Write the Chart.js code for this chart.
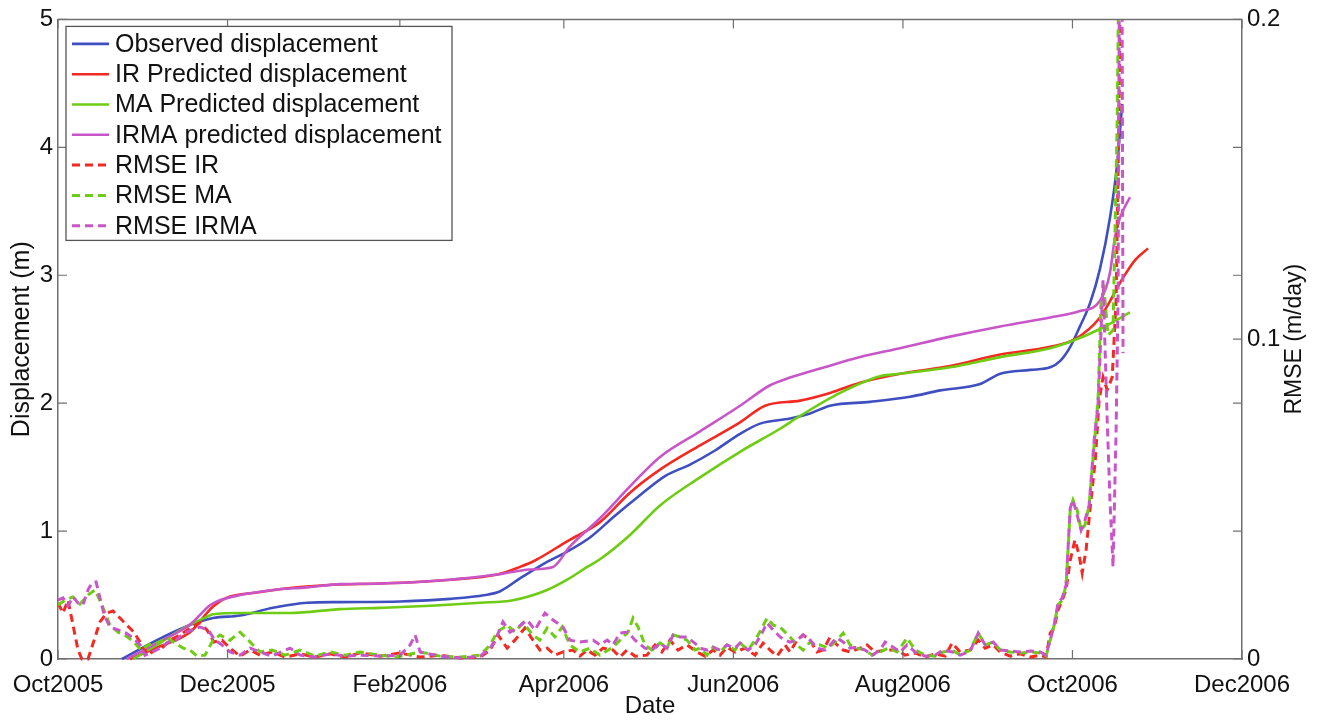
<!DOCTYPE html>
<html><head><meta charset="utf-8">
<script src="https://cdn.jsdelivr.net/npm/chart.js@4.4.1/dist/chart.umd.min.js"></script>
<style>html,body{margin:0;padding:0;background:#fff;}canvas{display:block;}</style>
</head><body>
<canvas id="c" width="1320" height="720"></canvas>
<script>
// ---- axis ticks (x in days since 1 Oct 2005) ----
const tickDays = [0, 61, 123, 182, 243, 304, 365, 426];
const tickLabels = ['Oct2005','Dec2005','Feb2006','Apr2006','Jun2006','Aug2006','Oct2006','Dec2006'];
const leftTicks = [0, 1, 2, 3, 4, 5];
const rightTicks = [0, 0.1, 0.2];

// ---- displacement series [day, metres] ----
const observed = [[23.0,0],[35.6,0.148],[47.5,0.266],[55.8,0.32],[65.5,0.34],[77.4,0.40],[89.6,0.44],[101.5,0.445],[123.1,0.45],[141.1,0.47],[153.7,0.50],[159.1,0.53],[166.2,0.63],[175.2,0.75],[183.2,0.84],[191.4,0.95],[200.4,1.12],[209.4,1.28],[218.4,1.43],[227.4,1.52],[236.4,1.63],[245.4,1.76],[252.6,1.84],[263.4,1.88],[270.6,1.92],[277.8,1.98],[292.2,2.01],[306.6,2.05],[317.4,2.10],[331.8,2.15],[339.0,2.23],[349.8,2.26],[357.0,2.28],[360.6,2.33],[364.2,2.44],[367.7,2.60],[371.3,2.78],[374.9,3.05],[378.5,3.45],[381.1,3.87],[382.9,4.34]];
const irPred = [[25.9,0],[35.6,0.09],[47.5,0.21],[55.8,0.41],[60.8,0.48],[71.6,0.52],[83.5,0.555],[99.0,0.58],[115.9,0.59],[141.1,0.62],[158.0,0.66],[166.2,0.72],[171.6,0.77],[183.2,0.92],[195.0,1.07],[205.8,1.30],[216.6,1.48],[231.0,1.67],[245.4,1.85],[254.4,1.98],[267.0,2.02],[277.8,2.08],[288.6,2.16],[303.0,2.23],[321.0,2.29],[339.0,2.38],[357.0,2.44],[365.9,2.50],[374.9,2.67],[383.2,2.98],[387.6,3.12],[392.2,3.21]];
const maPred = [[27.0,0],[35.6,0.11],[45.0,0.24],[53.6,0.33],[55.8,0.35],[65.5,0.36],[83.5,0.36],[101.5,0.39],[115.9,0.40],[127.7,0.41],[151.9,0.44],[163.7,0.46],[176.0,0.54],[183.2,0.62],[190.4,0.72],[195.0,0.78],[205.8,0.97],[216.6,1.20],[231.0,1.42],[245.4,1.62],[259.8,1.80],[267.0,1.90],[281.4,2.08],[295.8,2.21],[303.0,2.23],[321.0,2.28],[339.0,2.36],[357.0,2.43],[364.2,2.48],[374.9,2.58],[385.7,2.71]];
const irmaPred = [[24.8,0],[35.6,0.125],[47.5,0.27],[54.7,0.42],[57.2,0.45],[65.5,0.50],[77.4,0.54],[89.6,0.56],[101.5,0.585],[115.9,0.59],[141.1,0.62],[158.0,0.66],[169.8,0.70],[178.1,0.72],[184.2,0.88],[195.0,1.10],[205.8,1.35],[216.6,1.58],[231.0,1.78],[245.4,1.98],[256.2,2.14],[263.4,2.20],[274.2,2.27],[288.6,2.36],[303.0,2.43],[321.0,2.52],[339.0,2.60],[357.0,2.67],[367.7,2.72],[374.9,2.80],[378.5,3.02],[380.3,3.30],[382.1,3.45],[385.7,3.61]];

// ---- RMSE series [day, m/day] ----
const rmseIR = [[0,0.0175],[1.8,0.0144],[3.6,0.0184],[5.4,0.0106],[7.2,0.0028],[8.6,0],[10.8,0],[13.0,0.0059],[15.1,0.0116],[17.6,0.0144],[19.8,0.015],[22.3,0.0128],[24.8,0.0106],[27.3,0.0084],[29.9,0.0047],[32.4,0.0012],[34.9,0.0028],[37.4,0.0034],[40.3,0.0059],[43.9,0.0075],[47.5,0.0097],[51.1,0.0113],[53.6,0.0091],[56.1,0.0053],[59.0,0.0059],[61.9,0.0034],[65.5,0.0009],[69.1,0.0028],[72.7,0.0012],[77.0,0.0022],[81.7,0.0006],[87.1,0.0016],[92.5,0.0006],[97.9,0.0016],[103.3,0.0006],[108.7,0.0019],[115.9,0.0009],[123.1,0.0019],[130.3,0.0006],[137.5,0.0012],[144.7,0.0003],[151.9,0.0006],[155.5,0.0028],[158.3,0.0075],[161.6,0.0034],[164.4,0.0059],[168.0,0.0097],[170.9,0.0059],[173.4,0.0028],[176.0,0.0034],[178.8,0.0012],[181.7,0.0022],[185.3,0.0028],[187.8,0.0009],[190.4,0.0028],[193.2,0.0012],[196.1,0.0034],[199.7,0.0028],[202.2,0.0006],[204.7,0.0028],[207.6,0.0009],[211.9,0.0012],[214.8,0.0044],[217.3,0.0022],[220.2,0.0059],[223.1,0.0028],[226.3,0.0044],[229.9,0.0022],[232.8,0.0009],[235.7,0.0028],[238.2,0.0012],[240.7,0.0037],[243.6,0.0022],[247.2,0.0034],[250.8,0.0012],[253.7,0.005],[256.2,0.0028],[258.7,0.0009],[261.6,0.0044],[263.4,0.0022],[265.9,0.0059],[268.1,0.0075],[270.6,0.0059],[273.1,0.0022],[275.3,0.0028],[277.8,0.0069],[280.3,0.0044],[282.5,0.0028],[285.0,0.0022],[288.6,0.0034],[291.1,0.0044],[294.0,0.0022],[297.6,0.0028],[301.9,0.0028],[304.8,0.0012],[308.4,0.0019],[312.0,0.0006],[315.6,0.0016],[319.2,0.0009],[321.7,0.005],[324.6,0.0022],[328.2,0.0028],[331.1,0.0059],[333.6,0.0034],[336.5,0.0044],[339.0,0.0022],[342.6,0.0009],[346.2,0.0016],[349.8,0.0006],[353.4,0.0012],[355.5,0.0006],[357.0,0.0081],[358.4,0.0097],[359.8,0.0153],[361.3,0.0184],[362.7,0.0216],[364.2,0.0309],[365.9,0.0372],[367.4,0.0325],[368.5,0.0269],[369.9,0.0341],[371.3,0.0466],[373.2,0.0622],[374.6,0.0809],[376.0,0.0881],[377.5,0.0841],[379.3,0.0881],[380.7,0.1122],[381.8,0.1747],[382.5,0.2372]];
const rmseMA = [[0,0.0169],[2.5,0.0184],[5.4,0.0194],[7.9,0.0172],[10.8,0.02],[13.3,0.0216],[15.8,0.0169],[18.7,0.0106],[21.6,0.0084],[24.5,0.0072],[27.3,0.0053],[29.9,0.0028],[32.4,0.0044],[35.6,0.005],[39.2,0.0066],[42.1,0.005],[45.0,0.0034],[47.5,0.0028],[50.0,0.0009],[52.9,0.0012],[55.8,0.0059],[58.3,0.0075],[61.9,0.0059],[65.5,0.0084],[69.1,0.0053],[72.7,0.0022],[77.0,0.0028],[81.7,0.0012],[87.1,0.0028],[92.5,0.0009],[97.9,0.0022],[103.3,0.0012],[108.7,0.0022],[115.9,0.0012],[121.3,0.0006],[124.9,0.0012],[130.3,0.0022],[137.5,0.0009],[144.7,0.0006],[151.9,0.0012],[155.5,0.0044],[158.0,0.0084],[161.6,0.0106],[164.4,0.0084],[167.3,0.0113],[170.9,0.0075],[173.4,0.0059],[176.0,0.0097],[178.8,0.0069],[181.4,0.01],[184.2,0.0044],[187.8,0.0022],[191.4,0.0034],[195.0,0.0012],[199.7,0.0037],[202.2,0.0059],[205.1,0.0084],[206.9,0.0128],[208.7,0.01],[211.2,0.0044],[213.7,0.0028],[216.6,0.005],[219.1,0.0034],[221.3,0.0075],[223.8,0.0069],[226.3,0.0059],[229.2,0.0028],[231.0,0.0034],[233.5,0.0012],[235.7,0.0037],[238.2,0.0022],[240.7,0.0044],[243.6,0.0028],[245.4,0.005],[248.3,0.0028],[250.8,0.0059],[253.3,0.0097],[255.1,0.0128],[257.3,0.0106],[259.8,0.01],[261.6,0.0084],[263.4,0.0069],[265.9,0.0044],[268.1,0.0028],[270.6,0.0053],[272.4,0.0044],[274.2,0.0044],[277.1,0.0034],[279.6,0.0053],[282.5,0.0081],[285.0,0.0044],[287.5,0.0034],[290.4,0.0028],[292.9,0.0012],[295.8,0.0022],[298.7,0.0034],[301.9,0.0022],[305.5,0.0066],[308.4,0.0028],[312.0,0.0012],[315.6,0.0009],[318.5,0.0022],[321.7,0.0028],[324.6,0.0012],[328.2,0.0028],[331.1,0.0081],[333.6,0.0044],[336.5,0.0053],[339.0,0.0028],[342.6,0.0022],[346.2,0.0019],[349.8,0.0022],[353.4,0.0019],[355.5,0.0009],[357.0,0.0059],[358.4,0.0106],[359.8,0.0169],[361.3,0.0184],[362.7,0.0231],[364.2,0.0466],[365.2,0.0497],[366.7,0.0466],[368.1,0.0403],[369.5,0.0419],[371.0,0.0481],[372.8,0.0669],[374.2,0.0809],[375.3,0.1122],[376.4,0.1153],[377.8,0.1013],[379.6,0.1028],[381.1,0.1684],[382.1,0.2528]];
const rmseIRMA = [[0,0.0184],[1.8,0.0191],[3.6,0.0166],[5.4,0.0194],[7.2,0.0175],[9.0,0.0169],[10.8,0.0216],[12.2,0.0238],[13.7,0.0241],[15.1,0.0191],[16.6,0.0138],[18.7,0.01],[21.6,0.0091],[24.5,0.0081],[27.0,0.0066],[29.5,0.0044],[31.3,0.0012],[33.8,0.0022],[36.7,0.0034],[39.6,0.0053],[42.5,0.0059],[45.3,0.0081],[48.2,0.0091],[51.1,0.01],[54.0,0.0091],[56.5,0.0059],[59.0,0.0044],[61.9,0.0022],[65.5,0.0012],[69.1,0.0034],[72.7,0.0022],[77.0,0.0009],[83.5,0.0034],[87.1,0.0012],[92.5,0.0006],[97.9,0.0016],[103.3,0.0009],[108.7,0.0012],[115.9,0.0009],[123.1,0.0012],[126.7,0.0044],[128.5,0.0075],[130.3,0.0022],[137.5,0.0009],[144.7,0.0003],[151.9,0.0009],[155.5,0.0034],[157.3,0.0059],[160.1,0.0116],[162.6,0.0084],[165.2,0.0097],[168.8,0.0122],[171.6,0.0091],[175.2,0.0144],[178.1,0.0122],[181.7,0.01],[184.2,0.0059],[187.8,0.0053],[192.5,0.0059],[195.0,0.0044],[197.6,0.0059],[199.7,0.0044],[202.2,0.0081],[205.1,0.0084],[207.6,0.0059],[211.2,0.0034],[213.7,0.0028],[216.6,0.005],[219.1,0.0034],[221.3,0.0075],[223.8,0.0069],[226.3,0.0069],[229.9,0.0044],[231.0,0.0034],[233.5,0.0028],[235.7,0.0037],[238.2,0.0028],[240.7,0.0044],[243.6,0.0034],[245.4,0.005],[248.3,0.0028],[250.8,0.0044],[253.3,0.0081],[255.1,0.0113],[257.3,0.0091],[259.8,0.0069],[261.6,0.0059],[263.4,0.0053],[265.9,0.0059],[268.1,0.0075],[270.6,0.0059],[273.1,0.0034],[276.0,0.0028],[277.8,0.0044],[280.3,0.0066],[282.5,0.0053],[285.0,0.0034],[287.5,0.0037],[290.4,0.0028],[292.9,0.0012],[295.8,0.0028],[297.6,0.0053],[300.5,0.0037],[303.0,0.0022],[305.5,0.0044],[308.4,0.0022],[312.0,0.0009],[315.6,0.0012],[318.5,0.0028],[321.7,0.0022],[324.6,0.0012],[328.2,0.0025],[331.1,0.0081],[333.6,0.0044],[336.5,0.0053],[339.0,0.0028],[342.6,0.0025],[346.2,0.0022],[349.8,0.0025],[353.4,0.0022],[355.5,0.0012],[357.0,0.0059],[358.4,0.0106],[359.8,0.0175],[361.3,0.0191],[362.7,0.0231],[364.2,0.0472],[365.2,0.0497],[366.7,0.045],[368.1,0.0403],[369.5,0.0434],[371.0,0.0481],[372.8,0.0684],[374.2,0.0794],[375.3,0.1028],[376.0,0.1184],[377.5,0.0747],[378.5,0.0497],[379.6,0.0288],[380.7,0.0716],[381.4,0.1122],[382.1,0.26],[382.7,0.26],[383.2,0.0956]];

const labels = ['Observed displacement','IR Predicted displacement','MA Predicted displacement','IRMA predicted displacement','RMSE IR','RMSE MA','RMSE IRMA'];
const colors = ['#3f4fc0','#f22a22','#6fcc14','#c956c8','#f22a22','#6fcc14','#c956c8'];

const FONT = "'Liberation Sans', Arial, Helvetica, sans-serif";
const AXIS = '#707070';
Chart.defaults.font.family = FONT;
Chart.defaults.color = '#111';

function pts(arr){ return arr.map(p => ({x: p[0], y: p[1]})); }
const series = [observed, irPred, maPred, irmaPred, rmseIR, rmseMA, rmseIRMA];
const datasets = series.map((s, i) => ({
  label: labels[i],
  data: pts(s),
  yAxisID: i < 4 ? 'y' : 'y1',
  borderColor: colors[i],
  backgroundColor: colors[i],
  borderWidth: i < 4 ? 2.6 : 3,
  borderDash: i < 4 ? [] : [8, 5],
  pointRadius: 0,
  cubicInterpolationMode: i < 4 ? 'monotone' : 'default',
  tension: 0,
  fill: false,
  order: 7 - i,
  clip: {left: 0, right: 0, top: 0, bottom: 6}
}));

const framePlugin = {
  id: 'frame',
  afterDatasetsDraw(chart){
    const {ctx, chartArea: a, scales} = chart;
    ctx.save();
    ctx.strokeStyle = AXIS;
    ctx.lineWidth = 1.5;
    ctx.beginPath();
    ctx.moveTo(a.left, a.top); ctx.lineTo(a.right, a.top);
    ctx.stroke();
    const L = 9;
    ctx.lineWidth = 1.2;
    ctx.beginPath();
    scales.x.ticks.forEach(t => {
      const px = scales.x.getPixelForValue(t.value);
      ctx.moveTo(px, a.bottom); ctx.lineTo(px, a.bottom - L);
      ctx.moveTo(px, a.top); ctx.lineTo(px, a.top + L);
    });
    scales.y.ticks.forEach(t => {
      const py = scales.y.getPixelForValue(t.value);
      ctx.moveTo(a.left, py); ctx.lineTo(a.left + L, py);
      ctx.moveTo(a.right, py); ctx.lineTo(a.right - L, py);
    });
    scales.y1.ticks.forEach(t => {
      const py = scales.y1.getPixelForValue(t.value);
      ctx.moveTo(a.right, py); ctx.lineTo(a.right - L, py);
    });
    ctx.stroke();
    ctx.restore();
  },
  afterDraw(chart){
    const {ctx, chartArea: a} = chart;
    ctx.save();
    // right axis title (reads bottom-to-top)
    ctx.fillStyle = '#111';
    ctx.font = '23px ' + FONT;
    ctx.textAlign = 'center';
    ctx.textBaseline = 'middle';
    ctx.translate(1295, (a.top + a.bottom) / 2);
    ctx.rotate(-Math.PI / 2);
    ctx.fillText('RMSE (m/day)', 0, 0);
    ctx.restore();

    // legend
    ctx.save();
    const bx = a.left + 8, by = a.top + 7, bw = 386, bh = 214;
    ctx.fillStyle = '#fff';
    ctx.fillRect(bx, by, bw, bh);
    ctx.strokeStyle = '#555';
    ctx.lineWidth = 1.3;
    ctx.strokeRect(bx, by, bw, bh);
    ctx.font = '25px ' + FONT;
    ctx.textBaseline = 'middle';
    ctx.textAlign = 'left';
    chart.data.datasets.forEach((ds, i) => {
      const cy = by + 17.5 + i * 30.3;
      ctx.strokeStyle = ds.borderColor;
      ctx.lineWidth = ds.borderWidth;
      ctx.setLineDash(ds.borderDash || []);
      ctx.beginPath();
      ctx.moveTo(bx + 6, cy); ctx.lineTo(bx + 43, cy);
      ctx.stroke();
      ctx.setLineDash([]);
      ctx.fillStyle = '#111';
      ctx.fillText(ds.label, bx + 49, cy + 1);
    });
    ctx.restore();
  }
};

new Chart(document.getElementById('c'), {
  type: 'line',
  data: {datasets},
  options: {
    responsive: false,
    animation: false,
    devicePixelRatio: 1,
    parsing: true,
    layout: {padding: {top: 19, left: 0, right: 0, bottom: 0}},
    plugins: {legend: {display: false}, tooltip: {enabled: false}},
    scales: {
      x: {
        type: 'linear', min: 0, max: 426,
        afterBuildTicks: s => { s.ticks = tickDays.map(v => ({value: v})); },
        afterFit: s => { s.height = 61; },
        ticks: {
          autoSkip: false, maxRotation: 0, padding: 12,
          font: {size: 24}, color: '#111',
          callback: v => tickLabels[tickDays.indexOf(v)] || ''
        },
        grid: {display: false, drawTicks: false},
        border: {display: true, color: AXIS, width: 1.5},
        title: {display: true, text: 'Date', font: {size: 24}, color: '#111', padding: {top: 0, bottom: -1}}
      },
      y: {
        type: 'linear', position: 'left', min: 0, max: 5,
        afterBuildTicks: s => { s.ticks = leftTicks.map(v => ({value: v})); },
        afterFit: s => { s.width = 58; },
        ticks: {padding: 5, font: {size: 24}, color: '#111'},
        grid: {display: false, drawTicks: false},
        border: {display: true, color: AXIS, width: 1.5},
        title: {display: true, text: 'Displacement (m)', font: {size: 25}, color: '#111', padding: {top: 7, bottom: 0}}
      },
      y1: {
        type: 'linear', position: 'right', min: 0, max: 0.2,
        afterBuildTicks: s => { s.ticks = rightTicks.map(v => ({value: v})); },
        afterFit: s => { s.width = 78; },
        ticks: {padding: 5, font: {size: 24}, color: '#111', callback: v => String(v)},
        grid: {display: false, drawTicks: false},
        border: {display: true, color: AXIS, width: 1.5}
      }
    }
  },
  plugins: [framePlugin]
});
</script>
</body></html>
